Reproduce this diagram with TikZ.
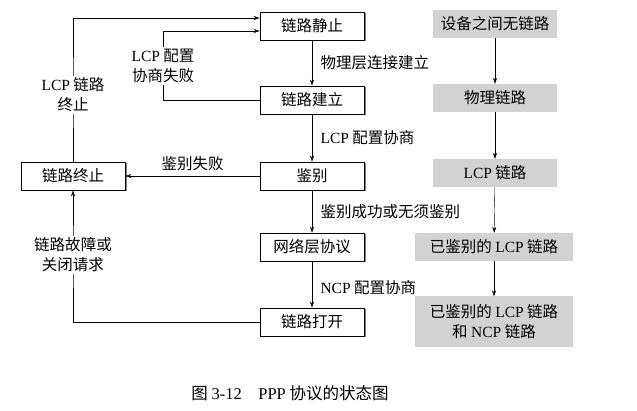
\documentclass[tikz,border=0pt]{standalone}
\usepackage{fontspec}
\setmainfont{Noto Sans CJK SC}
\newfontfamily\latfont{Liberation Serif}
\newcommand{\en}[1]{{\latfont #1}}
\usepackage{tikz}
\usetikzlibrary{arrows.meta,shadows}

\begin{document}
\begin{tikzpicture}[x=1pt, y=-1pt, font=\fontsize{15.5}{20}\selectfont,
    >={Stealth[length=6pt, width=4pt]},
    state/.style={draw, line width=0.8pt, fill=white, inner sep=0pt,
      minimum width=104pt, minimum height=28pt,
      drop shadow={shadow xshift=1.5pt, shadow yshift=-1.5pt, opacity=1}},
    phase/.style={fill=gray!35, inner sep=0pt, align=center,
      minimum width=124pt, minimum height=28pt},
    note/.style={fill=white, align=center, inner sep=2pt}]
    \useasboundingbox (0,0) rectangle (637,411);

    \node[state] (still) at (312,26){链路静止};
    \node[state] (estab) at (312,100){链路建立};
    \node[state] (auth) at (312,176){鉴别};
    \node[state] (netw) at (312,247){网络层协议};
    \node[state] (open) at (312,322){链路打开};
    \node[state] (term) at (73,176){链路终止};

    \draw[->] (still)--(estab) node[midway, right, xshift=5pt] (lphys){物理层连接建立};
    \draw[->] (estab)--(auth) node[midway, right, xshift=5pt] (llcp){\en{LCP} 配置协商};
    \draw[->] (auth)--(netw) node[midway, right, xshift=5pt] (lok){鉴别成功或无须鉴别};
    \draw[->] (netw)--(open) node[midway, right, xshift=5pt, yshift=-3pt] (lncp){\en{NCP} 配置协商};
    \draw[->] (auth)--(term) node[midway, above, yshift=2pt] (lauth){鉴别失败};

    \coordinate (cterm) at (73,95);
    \coordinate (cfail) at (163,66);
    \coordinate (cdown) at (73,255);
    \draw[->] (term)--(cterm) |- ([yshift=8pt]still.west);
    \node[note] (lterm) at (cterm){\en{LCP} 链路\\终止};
    \draw[->] (estab.west) -| (cfail) |- ([yshift=-5pt]still.west);
    \node[note] (lfail) at (cfail){\en{LCP} 配置\\协商失败};
    \draw[->] (open.west) -| (cdown)--(term);
    \node[note] (lclose) at (cdown){链路故障或\\关闭请求};

    \node[phase] (none) at (495,24){设备之间无链路};
    \node[phase] (phys) at (495,98){物理链路};
    \node[phase] (lcp) at (495,173){\en{LCP} 链路};
    \node[phase, minimum width=158pt] (authd) at (494,247){已鉴别的 \en{LCP} 链路};
    \node[phase, minimum width=158pt, minimum height=51pt] (ncp) at (494,322){已鉴别的 \en{LCP} 链路\\和 \en{NCP} 链路};
    \draw[->] (none)--(phys);
    \draw[->] (phys)--(lcp);
    \draw[->] (lcp)--(authd);
    \draw[->] (authd)--(ncp);

    \node[font=\fontsize{16.5}{20}\selectfont] (caption) at (290,393){图 \en{3-12}\quad\en{PPP} 协议的状态图};
\end{tikzpicture}
\end{document}
